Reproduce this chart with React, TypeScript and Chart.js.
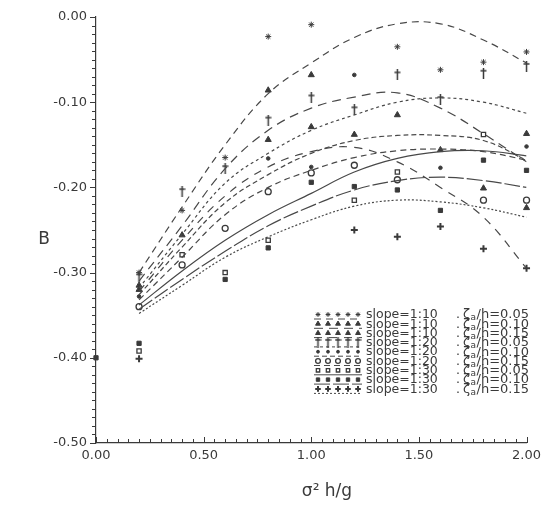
import React, { useEffect, useRef } from 'react';
import { Chart, registerables } from 'chart.js';
import { drawPoint } from 'chart.js/helpers';

Chart.register(...registerables);

const FONT = "'DejaVu Sans', sans-serif";
const INK = '#3a3a3a';

// measured x positions of the data points
const X_GRID = [0, 0.2, 0.4, 0.6, 0.8, 1.0, 1.2, 1.4, 1.6, 1.8, 2.0];
// x positions at which the fitted curves were read
const CURVE_X = [0.2, 0.4, 0.6, 0.8, 1.0, 1.2, 1.4, 1.6, 1.8, 2.0];

// measured points (B), one array per case
const pts1 = [null, -0.300, -0.227, -0.165, -0.023, -0.009, null, -0.035, -0.062, -0.053, -0.041];
const pts2 = [null, -0.315, null, null, -0.086, -0.068, null, -0.115, null, null, -0.137];
const pts3 = [null, -0.320, -0.256, null, -0.144, -0.129, -0.138, null, -0.156, -0.201, -0.224];
const pts4 = [null, -0.305, -0.205, -0.178, -0.121, -0.095, -0.109, -0.068, -0.097, -0.066, -0.058];
const pts5 = [null, -0.328, null, null, -0.166, -0.176, -0.068, null, -0.177, null, -0.152];
const pts6 = [null, -0.340, -0.291, -0.248, -0.205, -0.183, -0.174, -0.191, null, -0.215, -0.215];
const pts7 = [null, -0.392, -0.279, -0.300, -0.262, null, -0.215, -0.182, null, -0.138, null];
const pts8 = [-0.400, -0.383, null, -0.308, -0.271, -0.194, -0.199, -0.203, -0.227, -0.168, -0.180];
const pts9 = [null, -0.401, null, null, null, null, -0.250, -0.258, -0.246, -0.272, -0.295];

// fitted curves (B) read at CURVE_X
const curve1 = [-0.300, -0.223, -0.150, -0.090, -0.054, -0.024, -0.008, -0.008, -0.027, -0.054];
const curve2 = [-0.310, -0.245, -0.178, -0.133, -0.107, -0.094, -0.089, -0.107, -0.137, -0.170];
const curve3 = [-0.322, -0.262, -0.210, -0.176, -0.158, -0.153, -0.170, -0.200, -0.235, -0.295];
const curve4 = [-0.318, -0.255, -0.195, -0.160, -0.133, -0.115, -0.100, -0.095, -0.100, -0.113];
const curve5 = [-0.326, -0.270, -0.218, -0.185, -0.160, -0.145, -0.139, -0.139, -0.145, -0.168];
const curve6 = [-0.332, -0.282, -0.232, -0.200, -0.180, -0.165, -0.157, -0.155, -0.158, -0.168];
const curve7 = [-0.338, -0.298, -0.262, -0.232, -0.207, -0.182, -0.166, -0.158, -0.157, -0.163];
const curve8 = [-0.343, -0.308, -0.275, -0.245, -0.222, -0.203, -0.192, -0.188, -0.192, -0.200];
const curve9 = [-0.348, -0.315, -0.282, -0.258, -0.238, -0.222, -0.215, -0.217, -0.224, -0.235];

const SLOPE_LABELS = ['slope=1:10', 'slope=1:10', 'slope=1:10', 'slope=1:20', 'slope=1:20', 'slope=1:20', 'slope=1:30', 'slope=1:30', 'slope=1:30'];
const ZETA_LABELS = ['0.05', '0.10', '0.15', '0.05', '0.10', '0.15', '0.05', '0.10', '0.15'];

const ALL_PTS = [pts1, pts2, pts3, pts4, pts5, pts6, pts7, pts8, pts9];
const ALL_CURVES = [curve1, curve2, curve3, curve4, curve5, curve6, curve7, curve8, curve9];
const DASHES: number[][] = [[7, 5], [9, 6], [8, 7], [3, 3], [5, 3], [6, 4], [], [16, 3], [2, 2]];

function makeDagger(): HTMLCanvasElement {
  const c = document.createElement('canvas');
  c.width = 7;
  c.height = 11;
  const g = c.getContext('2d')!;
  g.strokeStyle = INK;
  g.lineWidth = 1.5;
  g.beginPath();
  g.moveTo(3.5, 0);
  g.lineTo(3.5, 11);
  g.moveTo(0.5, 3);
  g.lineTo(6.5, 3);
  g.stroke();
  return c;
}

export default function App() {
  const ref = useRef<HTMLCanvasElement>(null);

  useEffect(() => {
    const dagger = makeDagger();
    const styles: { pointStyle: any; radius: number; fill: string; bw: number }[] = [
      { pointStyle: 'star', radius: 3, fill: INK, bw: 1 },
      { pointStyle: 'triangle', radius: 3.5, fill: INK, bw: 1 },
      { pointStyle: 'triangle', radius: 3.5, fill: INK, bw: 1 },
      { pointStyle: dagger, radius: 4, fill: INK, bw: 1 },
      { pointStyle: 'circle', radius: 1.8, fill: INK, bw: 1 },
      { pointStyle: 'circle', radius: 3, fill: '#ffffff', bw: 1.3 },
      { pointStyle: 'rect', radius: 3, fill: '#ffffff', bw: 1.3 },
      { pointStyle: 'rect', radius: 3, fill: INK, bw: 1 },
      { pointStyle: 'cross', radius: 3.5, fill: INK, bw: 2 },
    ];

    const curveSets = ALL_CURVES.map((c, i) => ({
      label: SLOPE_LABELS[i] + ' ' + ZETA_LABELS[i] + ' fit',
      data: CURVE_X.map((x, j) => ({ x, y: c[j] })),
      showLine: true,
      borderColor: '#484848',
      borderWidth: 1.2,
      borderDash: DASHES[i],
      tension: 0.4,
      pointRadius: 0,
      fill: false,
    }));

    const pointSets = ALL_PTS.map((p, i) => ({
      label: SLOPE_LABELS[i] + ' ' + ZETA_LABELS[i],
      data: X_GRID.map((x, j) => ({ x, y: p[j] })).filter((d) => d.y !== null),
      showLine: false,
      pointStyle: styles[i].pointStyle,
      pointRadius: styles[i].radius,
      pointBackgroundColor: styles[i].fill,
      pointBorderColor: INK,
      pointBorderWidth: styles[i].bw,
      clip: false as any,
    }));

    const decor = {
      id: 'decor',
      afterDraw(chart: any) {
        const { ctx, chartArea: a } = chart;
        const xs = chart.scales.x;
        const ys = chart.scales.y;
        ctx.save();
        ctx.strokeStyle = INK;
        ctx.lineWidth = 1;
        ctx.setLineDash([]);
        ctx.beginPath();
        for (let i = 0; i <= 50; i++) {
          const py = Math.round(ys.getPixelForValue(-i / 100)) + 0.5;
          const len = i % 10 === 0 ? 6 : 4;
          ctx.moveTo(a.left - len, py);
          ctx.lineTo(a.left, py);
        }
        for (let i = 0; i <= 40; i++) {
          const px = Math.round(xs.getPixelForValue(i * 0.05)) + 0.5;
          const len = i % 10 === 0 ? 6 : 4;
          ctx.moveTo(px, a.bottom);
          ctx.lineTo(px, a.bottom - len);
        }
        ctx.stroke();

        // axis titles
        ctx.fillStyle = INK;
        ctx.font = `17px ${FONT}`;
        ctx.textAlign = 'center';
        ctx.textBaseline = 'middle';
        ctx.fillText('B', 44, (a.top + a.bottom) / 2 + 10);
        ctx.fillText('σ² h/g', 327, 492);

        // legend
        for (let i = 0; i < SLOPE_LABELS.length; i++) {
          const y = a.bottom - 128 + i * 9.3;
          ctx.strokeStyle = '#484848';
          ctx.lineWidth = 1;
          ctx.setLineDash(DASHES[i]);
          ctx.beginPath();
          ctx.moveTo(314, y + 4);
          ctx.lineTo(362, y + 4);
          ctx.stroke();
          ctx.setLineDash([]);
          const st = styles[i];
          for (let k = 0; k < 5; k++) {
            ctx.fillStyle = st.fill;
            ctx.strokeStyle = INK;
            ctx.lineWidth = st.bw;
            drawPoint(ctx, { pointStyle: st.pointStyle, rotation: 0, radius: st.radius * 0.8, borderWidth: st.bw } as any, 318 + k * 10, y - 0.5);
          }
          ctx.fillStyle = INK;
          ctx.font = `12.5px ${FONT}`;
          ctx.textAlign = 'left';
          ctx.textBaseline = 'middle';
          ctx.fillText(SLOPE_LABELS[i], 366, y);
          ctx.fillText('.', 456, y);
          let tx = 463;
          ctx.font = `13px ${FONT}`;
          ctx.fillText('ζ', tx, y);
          tx += ctx.measureText('ζ').width + 0.5;
          ctx.font = `9px ${FONT}`;
          ctx.fillText('a', tx, y + 3);
          tx += ctx.measureText('a').width + 0.5;
          ctx.font = `13px ${FONT}`;
          ctx.fillText('/h=' + ZETA_LABELS[i], tx, y);
        }
        ctx.restore();
      },
    };

    const chart = new Chart(ref.current!, {
      type: 'scatter',
      data: { datasets: [...curveSets, ...pointSets] as any },
      options: {
        animation: false,
        responsive: false,
        devicePixelRatio: 1,
        layout: { padding: { top: 17, right: 14, left: 0, bottom: 0 } },
        plugins: { legend: { display: false }, tooltip: { enabled: false } },
        scales: {
          x: {
            type: 'linear',
            min: 0,
            max: 2,
            grid: { display: false, drawTicks: false },
            border: { display: true, color: INK, width: 1.2 },
            ticks: {
              stepSize: 0.5,
              padding: 5,
              color: INK,
              font: { family: FONT, size: 13 },
              callback: (v: any) => Number(v).toFixed(2),
              maxRotation: 0,
            },
            afterFit: (s: any) => {
              s.height = 66;
            },
          },
          y: {
            type: 'linear',
            min: -0.5,
            max: 0,
            grid: { display: false, drawTicks: false },
            border: { display: true, color: INK, width: 1.2 },
            ticks: {
              stepSize: 0.1,
              padding: 9,
              color: INK,
              font: { family: FONT, size: 13 },
              callback: (v: any) => {
                const n = Number(v);
                if (Math.abs(n) < 1e-9) return '0.00';
                return '-' + Math.abs(n).toFixed(2);
              },
            },
            afterFit: (s: any) => {
              s.width = 96;
            },
          },
        },
      },
      plugins: [decor],
    });
    return () => chart.destroy();
  }, []);

  return (
    <div style={{ position: 'fixed', left: 0, top: 0, width: 546, height: 509, background: '#ffffff' }}>
      <canvas ref={ref} width={546} height={509} style={{ width: 546, height: 509, display: 'block' }} />
    </div>
  );
}
